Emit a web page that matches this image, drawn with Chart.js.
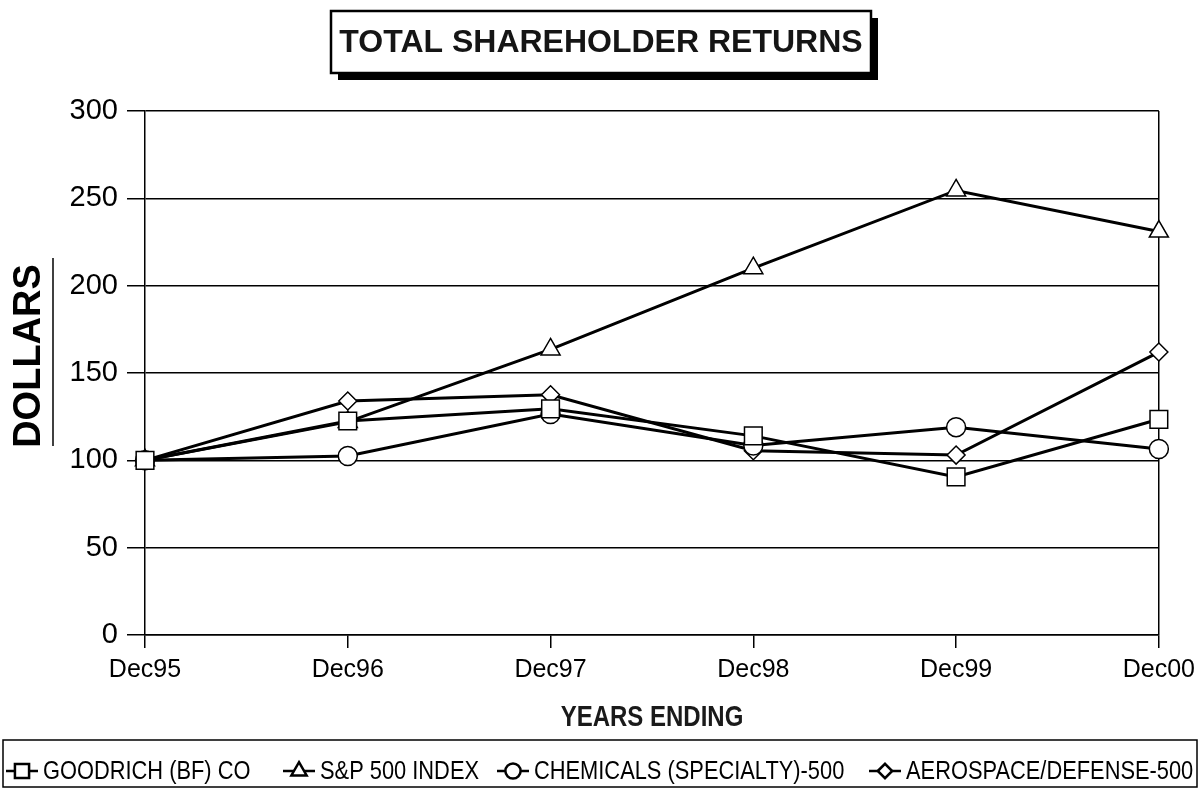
<!DOCTYPE html>
<html>
<head>
<meta charset="utf-8">
<script src="https://cdn.jsdelivr.net/npm/chart.js@4/dist/chart.umd.min.js"></script>
<style>
html,body{margin:0;padding:0;background:#fff;}
#wrap{position:relative;width:1202px;height:788px;}
</style>
</head>
<body>
<div id="wrap"><canvas id="c" width="1202" height="788"></canvas></div>
<script>
const categories = ["Dec95", "Dec96", "Dec97", "Dec98", "Dec99", "Dec00"];
const goodrich  = [100, 122.5, 129.5, 114, 90.5, 123.5];
const sp500     = [100, 122, 163.5, 210, 254.5, 231];
const chemicals = [100, 102.5, 126.5, 108.5, 119, 106.5];
const aerospace = [100, 134, 137.5, 105.5, 103, 162];
const seriesNames = ["GOODRICH (BF) CO", "S&P 500 INDEX", "CHEMICALS (SPECIALTY)-500", "AEROSPACE/DEFENSE-500"];
const yTicks = [0, 50, 100, 150, 200, 250, 300];
const titleText = "TOTAL SHAREHOLDER RETURNS";
const yTitle = "DOLLARS";
const xTitle = "YEARS ENDING";

const SANS = '"Liberation Sans", Arial, sans-serif';

function ds(label, data, style, r) {
  return {
    label, data,
    borderColor: '#000', borderWidth: 3,
    pointStyle: style, pointRadius: r, pointHoverRadius: r,
    pointBackgroundColor: '#fff', pointBorderColor: '#000', pointBorderWidth: 1.5,
    tension: 0, fill: false
  };
}
const pointStyles = ['rect', 'triangle', 'circle', 'rectRot'];
const pointRadii = [12.5, 11, 9.5, 9];

function condensedText(ctx, text, x, y, sx, align) {
  ctx.save();
  ctx.translate(x, y);
  ctx.scale(sx, 1);
  ctx.textAlign = align || 'left';
  ctx.fillText(text, 0, 0);
  ctx.restore();
  return ctx.measureText(text).width * sx;
}

const decor = {
  id: 'decor',
  afterDraw(chart) {
    const ctx = chart.ctx;
    ctx.save();
    // Title box with shadow
    const bx = 331, by = 11, bw = 540, bh = 62;
    ctx.fillStyle = '#000';
    ctx.fillRect(bx + 7, by + 7, bw, bh);
    ctx.fillStyle = '#fff';
    ctx.fillRect(bx, by, bw, bh);
    ctx.strokeStyle = '#000'; ctx.lineWidth = 2.5;
    ctx.strokeRect(bx, by, bw, bh);
    ctx.fillStyle = '#151515';
    ctx.font = 'bold 32px ' + SANS;
    ctx.textAlign = 'center'; ctx.textBaseline = 'middle';
    ctx.fillText(titleText, bx + bw / 2, by + bh / 2 + 1);

    // Y axis title
    ctx.save();
    ctx.translate(30, 356);
    ctx.rotate(-Math.PI / 2);
    ctx.font = 'bold 38px ' + SANS;
    ctx.fillStyle = '#000';
    ctx.textAlign = 'center';
    ctx.fillText(yTitle, 0, 0);
    ctx.restore();
    ctx.beginPath();
    ctx.strokeStyle = '#000';
    ctx.lineWidth = 1.5;
    ctx.moveTo(53, 258); ctx.lineTo(53, 446);
    ctx.stroke();

    // X axis title
    ctx.font = 'bold 30px ' + SANS;
    ctx.fillStyle = '#1a1a1a';
    ctx.textBaseline = 'middle';
    condensedText(ctx, xTitle, 652, 718, 0.8, 'center');

    // Legend
    const lx = 3, ly = 740, lw = 1194, lh = 47;
    ctx.strokeStyle = '#000'; ctx.lineWidth = 1.5;
    ctx.strokeRect(lx, ly, lw, lh);
    const cy = 771;
    const starts = [6, 283, 497, 869];
    ctx.font = '26px ' + SANS;
    chart.data.datasets.forEach((d, i) => {
      const x0 = starts[i];
      ctx.beginPath();
      ctx.lineWidth = 2.5; ctx.strokeStyle = '#000';
      ctx.moveTo(x0, cy); ctx.lineTo(x0 + 32, cy);
      ctx.stroke();
      ctx.fillStyle = '#fff'; ctx.strokeStyle = '#000';
      Chart.helpers.drawPoint(ctx, {pointStyle: pointStyles[i], radius: pointRadii[i] * 0.8, borderWidth: 1.5, rotation: 0}, x0 + 16, cy);
      ctx.fillStyle = '#000';
      ctx.textBaseline = 'middle';
      condensedText(ctx, d.label, x0 + 37, cy + 1, 0.84, 'left');
    });
    ctx.restore();
  }
};

new Chart(document.getElementById('c'), {
  type: 'line',
  data: {
    labels: categories,
    datasets: [
      ds(seriesNames[0], goodrich, pointStyles[0], pointRadii[0]),
      ds(seriesNames[1], sp500, pointStyles[1], pointRadii[1]),
      ds(seriesNames[2], chemicals, pointStyles[2], pointRadii[2]),
      ds(seriesNames[3], aerospace, pointStyles[3], pointRadii[3])
    ]
  },
  options: {
    responsive: false,
    animation: false,
    events: [],
    layout: { padding: { left: 0, right: 43, top: 111, bottom: 0 } },
    plugins: { legend: { display: false }, title: { display: false }, tooltip: { enabled: false } },
    scales: {
      x: {
        offset: false,
        afterFit(s) { s.height = 153; },
        grid: {
          drawOnChartArea: true,
          color: (c) => (c.index === categories.length - 1 ? '#000' : 'rgba(0,0,0,0)'),
          tickColor: '#000', tickLength: 13, lineWidth: 1.5
        },
        border: { display: true, color: '#000', width: 1.5 },
        ticks: { color: '#000', font: { family: SANS, size: 25 }, padding: 7, maxRotation: 0, autoSkip: false }
      },
      y: {
        min: 0, max: 300,
        afterFit(s) { s.width = 145; },
        afterBuildTicks(s) { s.ticks = yTicks.map(v => ({ value: v })); },
        grid: { color: '#000', lineWidth: 1.5, tickLength: 18, tickColor: '#000' },
        border: { display: true, color: '#000', width: 1.5 },
        ticks: { color: '#000', font: { family: SANS, size: 29 }, padding: 9 }
      }
    }
  },
  plugins: [decor]
});
</script>
</body>
</html>
